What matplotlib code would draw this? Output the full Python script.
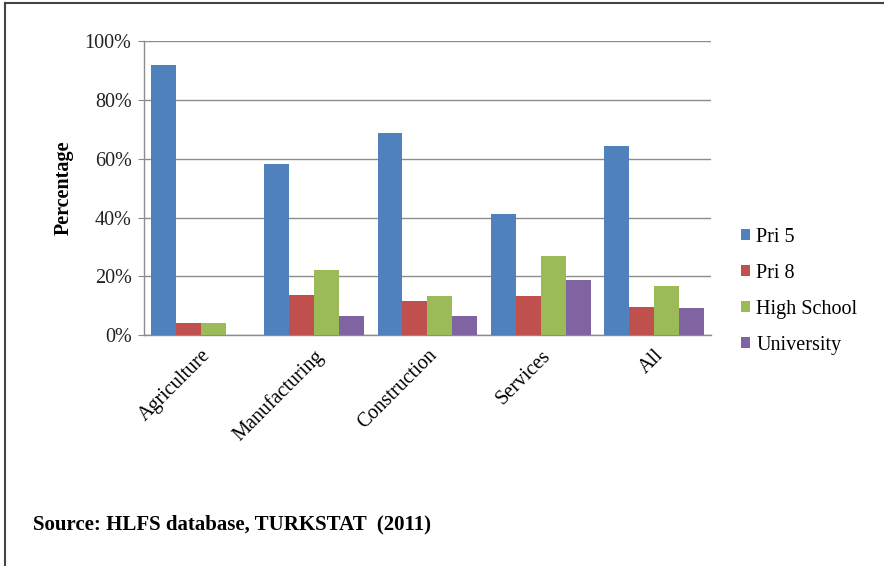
import matplotlib
matplotlib.use("Agg")
import matplotlib.pyplot as plt
import numpy as np
from matplotlib.lines import Line2D

plt.rcParams['font.family'] = ['Liberation Serif', 'DejaVu Serif']

categories = ["Agriculture", "Manufacturing", "Construction", "Services", "All"]
series_names = ["Pri 5", "Pri 8", "High School", "University"]
pri5 = [91.8, 58.2, 68.7, 41.2, 64.5]
pri8 = [4.2, 13.8, 11.7, 13.4, 9.6]
high_school = [4.2, 22.1, 13.4, 26.9, 16.7]
university = [0.0, 6.5, 6.5, 18.8, 9.1]
colors = ["#4F81BD", "#C0504D", "#9BBB59", "#8064A2"]
yticks = [0, 20, 40, 60, 80, 100]
ytick_labels = ["0%", "20%", "40%", "60%", "80%", "100%"]

fig = plt.figure(figsize=(8.84, 5.66), dpi=100)
ax = fig.add_axes([0.163, 0.408, 0.641, 0.519])

x = np.arange(len(categories))
w = 0.22
data = [pri5, pri8, high_school, university]
for i, (vals, name, c) in enumerate(zip(data, series_names, colors)):
    ax.bar(x + (i - 1.5) * w, vals, width=w, color=c, label=name, zorder=3)

ax.set_xlim(-0.5, len(categories) - 0.5)
ax.set_ylim(0, 100)
ax.set_yticks(yticks)
ax.set_yticklabels(ytick_labels, fontsize=14.5, color="#222222")
ax.set_xticks(x)
ax.set_xticklabels(categories, rotation=45, ha="right", rotation_mode="anchor", fontsize=14.5)
ax.tick_params(axis="x", length=0, pad=8)
ax.tick_params(axis="y", length=4, color="#888888", pad=5)
ax.grid(axis="y", color="#8c8c8c", linewidth=1.0, zorder=0)
for s in ["top", "right"]:
    ax.spines[s].set_visible(False)
for s in ["left", "bottom"]:
    ax.spines[s].set_color("#8c8c8c")
    ax.spines[s].set_linewidth(1.0)

ax.set_ylabel("Percentage", fontsize=14.5, fontweight="bold", labelpad=8)

leg = fig.legend(loc="upper left", bbox_to_anchor=(0.818, 0.63), frameon=False,
                 fontsize=14.5, handlelength=0.45, handleheight=0.45, handletextpad=0.3,
                 labelspacing=0.85)

fig.text(0.037, 0.073, "Source: HLFS database, TURKSTAT  (2011)", fontsize=15,
         fontweight="bold", ha="left", va="center")

# outer frame lines (left and top)
fig.add_artist(Line2D([0.006, 0.006], [0.0, 0.994], transform=fig.transFigure, color="#444444", linewidth=1.5))
fig.add_artist(Line2D([0.006, 1.0], [0.994, 0.994], transform=fig.transFigure, color="#444444", linewidth=1.5))

fig.savefig("out.png", dpi=100)
